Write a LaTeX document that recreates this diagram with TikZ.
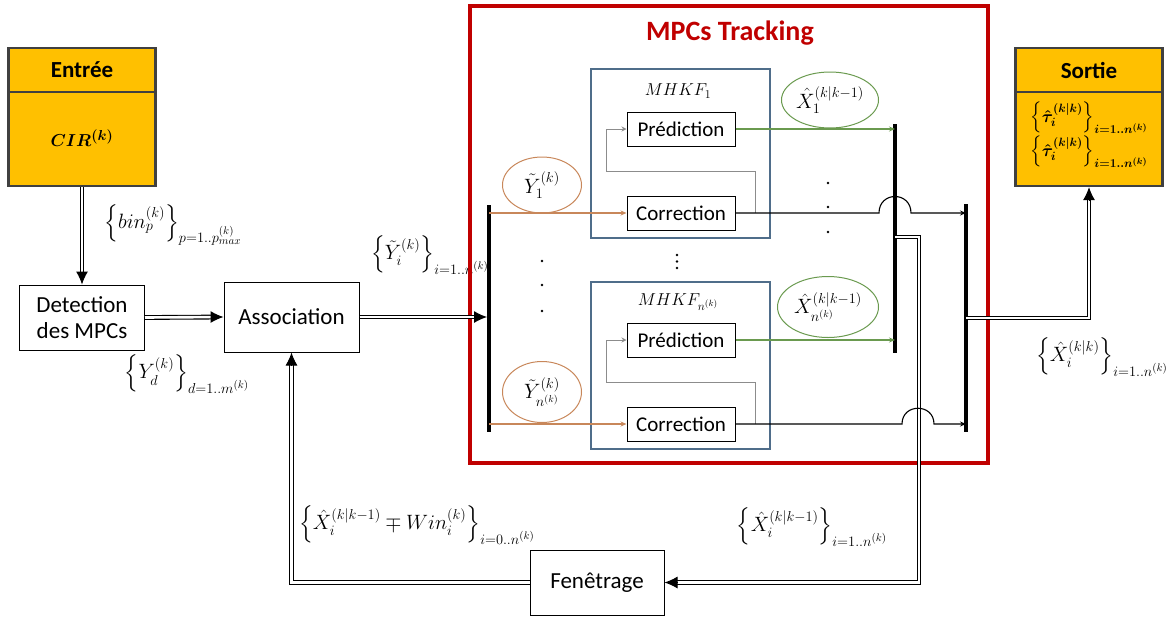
\documentclass[tikz,border=0pt]{standalone}
\usepackage{amsmath}
\usepackage{fontspec}
\setmainfont{Carlito}
\usetikzlibrary{arrows.meta,shapes.geometric}
\definecolor{ora}{HTML}{FFC000}
\definecolor{oraedge}{HTML}{404040}
\definecolor{myred}{HTML}{C00000}
\definecolor{steel}{HTML}{4F6D8A}
\definecolor{brn}{HTML}{C8875A}
\definecolor{grn}{HTML}{6A9A4F}
\definecolor{fbgray}{HTML}{8C8C8C}
\tikzset{
  blk/.style={draw, line width=1pt, fill=white},
  inbox/.style={draw, line width=1pt, fill=white, minimum width=108, minimum height=34, font=\fontsize{21}{24}\selectfont},
  mhbox/.style={draw=steel, line width=2pt, minimum width=179},
  yel/.style={draw=oraedge, fill=ora, line width=2.2pt, minimum width=147, minimum height=138},
  dbl/.style={double distance=2.6pt, line width=1.1pt, shorten >=11pt},
  tipw/.style={line width=1pt, -{Latex[length=13pt,width=12pt]}},
  bus/.style={line width=4pt},
  orl/.style={draw=brn, line width=1.2pt, -{Stealth[length=6pt,width=5pt]}},
  grl/.style={draw=grn, line width=1.2pt, -{Stealth[length=6pt,width=5pt]}},
  outl/.style={line width=1.1pt, -{Stealth[length=6pt,width=5pt]}},
  fbl/.style={draw=fbgray, line width=1pt, -{Stealth[length=5pt,width=5pt]}},
  ell/.style={ellipse, draw, line width=1pt, inner sep=0pt, font=\fontsize{20}{22}\selectfont},
  lab/.style={font=\fontsize{22}{24}\selectfont},
}
\begin{document}
\begin{tikzpicture}[x=1pt,y=-1pt, font=\fontsize{23}{26}\selectfont]
\useasboundingbox (0,0) rectangle (1173,622);
% input / output boxes
\node[yel] (entree) at (82,117) {};
\draw[oraedge, line width=1.5pt] ([yshift=-45pt]entree.north west) -- ([yshift=-45pt]entree.north east);
\node[font=\bfseries\fontsize{23}{26}\selectfont] (entreet) at (82,70) {Entrée};
\node[font=\fontsize{19}{22}\selectfont] (cir) at (82,138) {{$\boldsymbol{CIR^{(k)}}$}};
\node[yel] (sortie) at (1089,117) {};
\draw[oraedge, line width=1.5pt] ([yshift=-45pt]sortie.north west) -- ([yshift=-45pt]sortie.north east);
\node[font=\bfseries\fontsize{23}{26}\selectfont] (sortiet) at (1089,70) {Sortie};
\node[font=\fontsize{18}{20}\selectfont] (tau1) at (1089,118) {{$\boldsymbol{\left\{\hat{\tau}_i^{(k|k)}\right\}_{i=1..n^{(k)}}}$}};
\node[font=\fontsize{18}{20}\selectfont] (tau2) at (1089,152) {{$\boldsymbol{\left\{\hat{\tau}_i^{(k|k)}\right\}_{i=1..n^{(k)}}}$}};
% blocks
\node[blk, minimum width=125, minimum height=65, align=center, inner sep=1pt] (detect) at (82,317.5) {Detection\\des MPCs};
\node[blk, minimum width=135, minimum height=70] (assoc) at (291.5,317) {Association};
\node[blk, minimum width=134, minimum height=65] (fen) at (597,582.5) {Fenêtrage};
% labels outside
\node[lab] (lbin) at (173,225) {$\left\{bin_p^{(k)}\right\}_{p=1..p_{max}^{(k)}}$};
\node[lab] (lyd) at (187,374) {$\left\{Y_d^{(k)}\right\}_{d=1..m^{(k)}}$};
\node[lab] (lyi) at (430,255) {$\left\{\tilde{Y}_i^{(k)}\right\}_{i=1..n^{(k)}}$};
\node[lab] (lxo) at (1102,357) {$\left\{\hat{X}_i^{(k|k)}\right\}_{i=1..n^{(k)}}$};
\node[lab] (lwin) at (417,525) {$\left\{\hat{X}_i^{(k|k-1)}\mp Win_i^{(k)}\right\}_{i=0..n^{(k)}}$};
\node[lab] (lxp) at (812,527) {$\left\{\hat{X}_i^{(k|k-1)}\right\}_{i=1..n^{(k)}}$};
% tracking box
\node[draw=myred, line width=4pt, minimum width=518, minimum height=457] (track) at (729,234.5) {};
\node[text=myred, font=\bfseries\fontsize{28}{32}\selectfont] (trackt) at (730,33) {MPCs Tracking};
% MHKF boxes
\node[mhbox, minimum height=169] (mh1) at (680.5,153.5) {};
\node[mhbox, minimum height=167] (mhn) at (680.5,365.5) {};
\node[font=\fontsize{18}{20}\selectfont] (mh1t) at (678,91) {$MHKF_1$};
\node[font=\fontsize{18}{20}\selectfont] (mhnt) at (678,302) {$MHKF_{n^{(k)}}$};
\node[inbox] (p1) at (681,129) {Prédiction};
\node[inbox] (c1) at (681,213) {Correction};
\node[inbox] (p2) at (681,340) {Prédiction};
\node[inbox] (c2) at (681,424) {Correction};
% buses
\coordinate (b1t) at (489,205); \coordinate (b1b) at (489,432);
\coordinate (b2t) at (895,124); \coordinate (b2b) at (895,353);
\coordinate (b3t) at (966,204); \coordinate (b3b) at (966,432);
\draw[bus] (b1t) -- (b1b);
\draw[bus] (b2t) -- (b2b);
\draw[bus] (b3t) -- (b3b);
% ellipses
\node[ell, draw=brn, minimum width=79, minimum height=56] (ey1) at (542,185) {$\tilde{Y}_1^{(k)}$};
\node[ell, draw=brn, minimum width=79, minimum height=61] (eyn) at (542,392) {$\tilde{Y}_{n^{(k)}}^{(k)}$};
\node[ell, draw=grn, minimum width=97, minimum height=56] (ex1) at (830,100) {$\hat{X}_1^{(k|k-1)}$};
\node[ell, draw=grn, minimum width=101, minimum height=61] (exn) at (828,307) {$\hat{X}_{n^{(k)}}^{(k|k-1)}$};
% dots
\foreach \yy in {261,285,311} \fill (542,\yy) circle (1.4pt);
\foreach \yy in {183,207,232} \fill (828,\yy) circle (1.4pt);
\foreach \yy in {255,261.5,268} \fill (677,\yy) circle (1.3pt);
% double connectors
\coordinate (a1) at ([xshift=-2pt]assoc.east -| b1t);
\coordinate (b2m) at (895,237);
\coordinate (b3m) at (966,318);
\draw[dbl] (entree.south) -- (detect.north);
\draw[tipw] ([yshift=13pt]detect.north) -- (detect.north);
\draw[dbl] (detect.east) -- (assoc.west);
\draw[tipw] ([xshift=-13pt]assoc.west) -- (assoc.west);
\draw[dbl] (assoc.east) -- (a1);
\draw[tipw] ([xshift=-13pt]a1) -- (a1);
\draw[dbl] (b2m) -- ++(24,0) |- (fen.east);
\draw[tipw] ([xshift=13pt]fen.east) -- (fen.east);
\draw[dbl] (fen.west) -| (assoc.south);
\draw[tipw] ([yshift=-13pt]assoc.south) -- (assoc.south);
\draw[dbl] (b3m) -| (sortie.south);
\draw[tipw] ([yshift=-13pt]sortie.south) -- (sortie.south);
% single connectors
\draw[orl] (c1.west -| b1t) -- (c1.west);
\draw[orl] (c2.west -| b1t) -- (c2.west);
\draw[fbl] ([xshift=20pt]c1.east) -- ++(0,-42) -| ([xshift=-20pt]p1.west) -- (p1.west);
\draw[fbl] ([xshift=20pt]c2.east) -- ++(0,-42) -| ([xshift=-20pt]p2.west) -- (p2.west);
\draw[grl] (p1.east) -- (p1.east -| b2t);
\draw[grl] (p2.east) -- (p2.east -| b2t);
\draw[outl] (c1.east) -- (879,213) .. controls (879,191) and (911,191) .. (911,213) -- (c1.east -| b3t);
\draw[outl] (c2.east) -- (902,424) .. controls (902,403) and (934,403) .. (934,424) -- (c2.east -| b3t);
\end{tikzpicture}
\end{document}
